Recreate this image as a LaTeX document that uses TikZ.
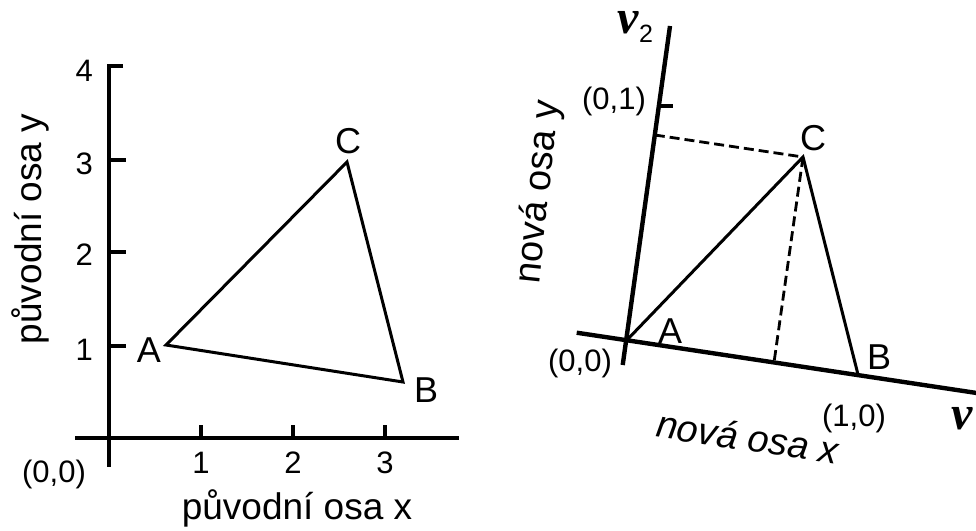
\documentclass[tikz,border=0pt]{standalone}
\usepackage{fontspec}
\setmainfont{Liberation Sans}
\newfontfamily\nufont{Liberation Serif}
\begin{document}
\begin{tikzpicture}[x=1pt,y=-1pt,
  axis/.style={line width=4.4pt},
  tickmark/.style={line width=3.2pt},
  tri/.style={line width=3pt, line join=miter},
  proj/.style={line width=2.8pt, dash pattern=on 10pt off 5pt},
  ticklbl/.style={font=\fontsize{31}{36}\selectfont, inner sep=0pt},
  vlbl/.style={font=\fontsize{36}{40}\selectfont, inner sep=0pt},
  axlbl/.style={font=\fontsize{37}{42}\selectfont, inner sep=0pt},
  nulbl/.style={font=\fontsize{48}{52}\selectfont\nufont\bfseries\itshape, inner sep=0pt},
  sublbl/.style={font=\fontsize{25}{28}\selectfont, inner sep=0pt}]
\useasboundingbox (0,0) rectangle (976,530);
\fill[white] (0,0) rectangle (976,530);
% ---------- left panel ----------
\coordinate (O) at (109,438);
\coordinate (Ytop) at (109,66);
\coordinate (Ytick4) at (123,66);
\coordinate (Ybot) at (109,467);
\coordinate (Xl) at (75,438);
\coordinate (Xr) at (459,438);
\draw[axis, line join=miter] (Ytick4) -- (Ytop) -- (Ybot);
\draw[axis] (Xl) -- (Xr);
\foreach \yy/\n in {160/3,252/2,346/1}{
  \coordinate (yt\n) at (109,\yy);
  \coordinate (ye\n) at (126,\yy);
  \draw[tickmark] (yt\n) -- (ye\n);
}
\foreach \xx/\n in {201/1,293/2,385/3}{
  \coordinate (xt\n) at (\xx,439);
  \coordinate (xe\n) at (\xx,425);
  \draw[tickmark] (xt\n) -- (xe\n);
  \node[ticklbl] (xl\n) at (\xx,463) {\n};
}
\node[ticklbl, anchor=east] (yl4) at (93,71) {4};
\node[ticklbl, anchor=east] (yl3) at (93,164) {3};
\node[ticklbl, anchor=east] (yl2) at (93,255) {2};
\node[ticklbl, anchor=east] (yl1) at (93,350) {1};
\node[ticklbl] (o1) at (54,474) {(0,0)};
\node[axlbl] (xlab) at (297,508) {původní osa x};
\node[axlbl, rotate=90] (ylab) at (30,229) {původní osa y};
\coordinate (A) at (166,345);
\coordinate (B) at (403,382);
\coordinate (C) at (347,162);
\draw[tri] (A) -- (B) -- (C) -- cycle;
\node[vlbl] (la) at (149,350) {A};
\node[vlbl] (lb) at (426,390) {B};
\node[vlbl] (lc) at (348,141) {C};
% ---------- right panel ----------
\coordinate (O2) at (626,341);
\coordinate (V2top) at (670,26);
\coordinate (V2bot) at (622.7,365);
\coordinate (V1l) at (576.7,332.7);
\coordinate (V1r) at (990,395);
\coordinate (B2) at (858,374.5);
\coordinate (C2) at (803,157);
\coordinate (T01) at (658.8,106);
\coordinate (T01e) at (673,106);
\coordinate (P2) at (654.8,135);
\coordinate (F1) at (774,362.5);
\draw[axis] (V2bot) -- (V2top);
\draw[axis] (V1l) -- (V1r);
\draw[tickmark] (T01) -- (T01e);
\draw[tri] (O2) -- (C2) -- (B2);
\draw[proj] (P2) -- (C2);
\draw[proj] (C2) -- (F1);
\node[ticklbl] (l01) at (614,101) {(0,1)};
\node[ticklbl] (l00) at (580,363) {(0,0)};
\node[ticklbl] (l10) at (854,418) {(1,0)};
\node[vlbl] (la2) at (670,331) {A};
\node[vlbl] (lb2) at (879,357) {B};
\node[vlbl] (lc2) at (813,138) {C};
\node[nulbl] (nu2) at (628,23) {ν};
\node[sublbl] (s2) at (646,34) {2};
\node[nulbl] (nu1) at (962,419) {ν};
\node[sublbl] (s1) at (983,431) {1};
\node[axlbl, font=\fontsize{38}{42}\selectfont\itshape, rotate=-8.6] (xlab2) at (748,437) {nová osa x};
\node[axlbl, font=\fontsize{38}{42}\selectfont, rotate=84] (ylab2) at (539,192) {nová osa y};
\end{tikzpicture}
\end{document}
